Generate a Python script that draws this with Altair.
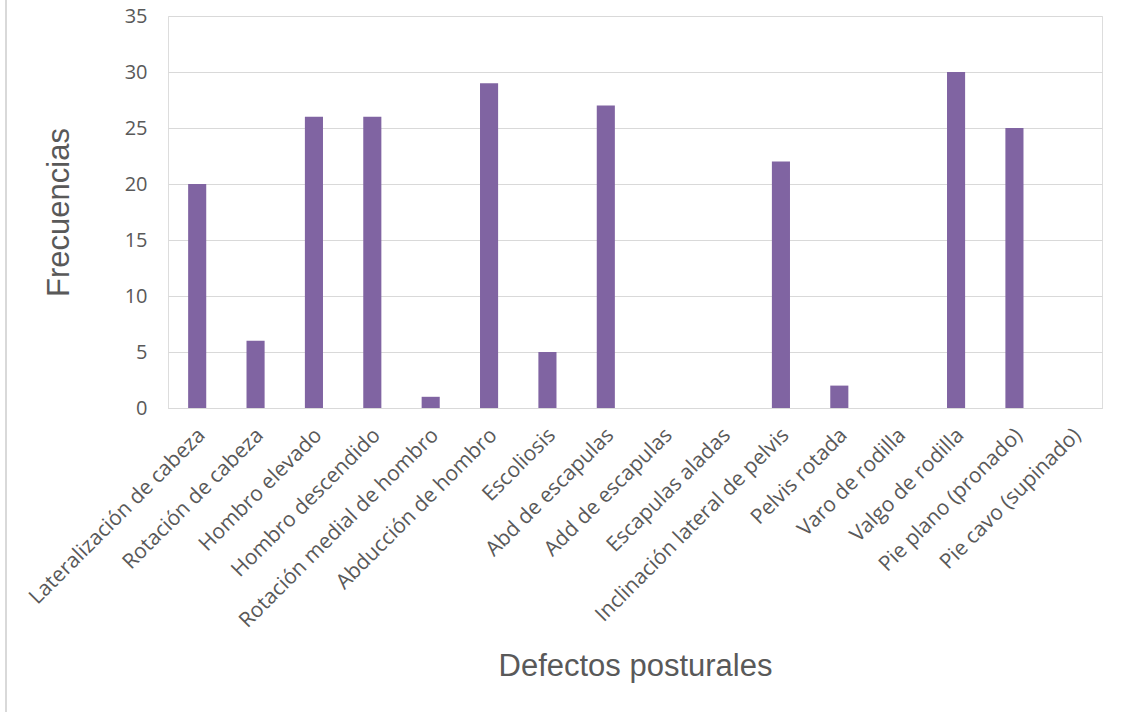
import altair as alt
import pandas as pd

# Postural defects and their observed frequencies
defectos = [
    "Lateralización de cabeza",
    "Rotación de cabeza",
    "Hombro elevado",
    "Hombro descendido",
    "Rotación medial de hombro",
    "Abducción de hombro",
    "Escoliosis",
    "Abd de escapulas",
    "Add de escapulas",
    "Escapulas aladas",
    "Inclinación lateral de pelvis",
    "Pelvis rotada",
    "Varo de rodilla",
    "Valgo de rodilla",
    "Pie plano (pronado)",
    "Pie cavo  (supinado)",
]
frecuencias = [20, 6, 26, 26, 1, 29, 5, 27, 0, 0, 22, 2, 0, 30, 25, 0]
y_ticks = [0, 5, 10, 15, 20, 25, 30, 35]

df = pd.DataFrame({"defecto": defectos, "frecuencia": frecuencias})

W, H = 934, 392
LEFT, TOP = 168, 16
GRAY_TEXT = "#595959"
GRID = "#d9d9d9"

bars = alt.Chart(df).mark_bar(color="#8064A2").encode(
    x=alt.X(
        "defecto:N",
        sort=None,
        title="Defectos posturales",
        scale=alt.Scale(paddingInner=0.69, paddingOuter=0.345),
        axis=alt.Axis(
            grid=False,
            labelAngle=-45,
            labelFont="Open Sans",
            labelFontSize=21,
            labelColor=GRAY_TEXT,
            labelPadding=16,
            labelOffset=-3,
            labelLimit=0,
            labelOverlap=False,
            ticks=False,
            domainColor=GRID,
            domainWidth=1,
            titleFont="Liberation Sans",
            titleFontSize=31,
            titleFontWeight="normal",
            titleColor=GRAY_TEXT,
            titleBaseline="alphabetic",
            titleY=267,
        ),
    ),
    y=alt.Y(
        "frecuencia:Q",
        title="Frecuencias",
        scale=alt.Scale(domain=[0, 35], nice=False),
        axis=alt.Axis(
            values=y_ticks,
            labelFont="Open Sans",
            labelFontSize=20,
            labelColor=GRAY_TEXT,
            labelPadding=21,
            ticks=False,
            domain=False,
            gridColor=GRID,
            gridWidth=1,
            titleFont="Liberation Sans",
            titleFontSize=31,
            titleFontWeight="normal",
            titleColor=GRAY_TEXT,
            titleBaseline="alphabetic",
            titleX=-100,
        ),
    ),
)

# thin frame line along the left edge of the figure
edge = pd.DataFrame({"edge": [0]})
frame = alt.Chart(edge).mark_rule(color="#d9d9d9", strokeWidth=2).encode(
    x=alt.value(6 - LEFT),
    y=alt.value(-TOP),
    y2=alt.value(712 - TOP),
)

chart = (
    alt.layer(bars, frame)
    .properties(
        width=W,
        height=H,
        autosize=alt.AutoSizeParams(type="none"),
        padding={"left": LEFT, "top": TOP, "right": 1122 - LEFT - W, "bottom": 712 - TOP - H},
    )
    .configure_view(stroke="transparent", strokeWidth=0)
    .configure(background="white")
)

chart.save("out.html", embed_options={"renderer": "svg", "actions": False})
